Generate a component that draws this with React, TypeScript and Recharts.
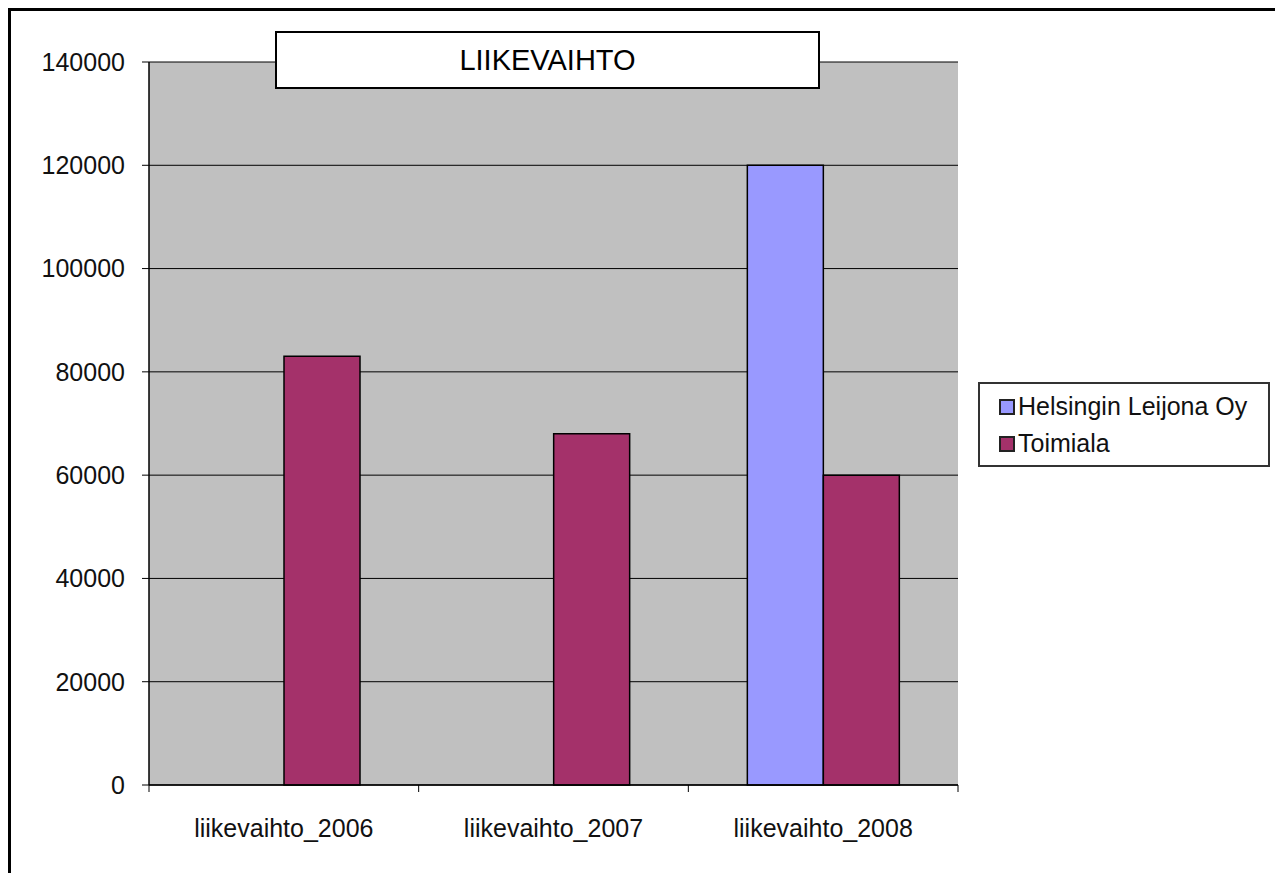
import React from "react"
import { Bar, BarChart, CartesianGrid, Legend, XAxis, YAxis } from "recharts"

const categories = ["liikevaihto_2006", "liikevaihto_2007", "liikevaihto_2008"]
const helsinkiValues = [null, null, 120000]
const toimialaValues = [83000, 68000, 60000]
const yTicks = [0, 20000, 40000, 60000, 80000, 100000, 120000, 140000]
const seriesNames = ["Helsingin Leijona Oy", "Toimiala"]
const chartTitle = "LIIKEVAIHTO"

const data = categories.map((name, i) => ({
  name,
  helsinki: helsinkiValues[i],
  toimiala: toimialaValues[i],
}))

const W = 1275
const H = 865
const margin = { top: 54, right: 325, bottom: 28, left: 41 }
const yAxisWidth = 100
const plotWidth = W - margin.left - margin.right - yAxisWidth
const font = "Arial, 'Liberation Sans', sans-serif"
const colors = { helsinki: "#9999FF", toimiala: "#A4316A" }

function CategoryTick(props: any) {
  const { x, y, payload, index } = props
  const band = plotWidth / categories.length
  const axisY = y - 8
  return (
    <g>
      <line x1={x - band / 2} x2={x - band / 2} y1={axisY} y2={axisY + 7} stroke="#000" />
      {index === categories.length - 1 && (
        <line x1={x + band / 2} x2={x + band / 2} y1={axisY} y2={axisY + 7} stroke="#000" />
      )}
      <text x={x} y={y + 44} textAnchor="middle" fontSize={25} fontFamily={font} fill="#111">
        {payload.value}
      </text>
    </g>
  )
}

function LegendBox() {
  const items = [
    { name: seriesNames[0], color: colors.helsinki },
    { name: seriesNames[1], color: colors.toimiala },
  ]
  return (
    <div
      style={{
        width: 292,
        height: 85,
        boxSizing: "border-box",
        border: "2px solid #333",
        background: "#fff",
        padding: "4px 0 0 19px",
        fontFamily: font,
        fontSize: 25,
        color: "#111",
      }}
    >
      {items.map((it) => (
        <div key={it.name} style={{ display: "flex", alignItems: "center", height: 37 }}>
          <span
            style={{
              display: "inline-block",
              width: 12,
              height: 12,
              background: it.color,
              border: "2px solid #222",
              marginRight: 3,
            }}
          />
          {it.name}
        </div>
      ))}
    </div>
  )
}

export default function App() {
  return (
    <div style={{ position: "relative", width: W, height: H, background: "#fff" }}>
      <BarChart width={W} height={H} data={data} margin={margin} barCategoryGap={59} barGap={0}>
        <CartesianGrid vertical={false} stroke="#000" fill="#C0C0C0" fillOpacity={1} />
        <XAxis
          dataKey="name"
          height={60}
          tickLine={false}
          tickSize={6}
          tickMargin={2}
          axisLine={{ stroke: "#000", strokeWidth: 1.5 }}
          tick={<CategoryTick />}
          interval={0}
        />
        <YAxis
          width={yAxisWidth}
          domain={[0, 140000]}
          ticks={yTicks}
          tickSize={7}
          tickMargin={17}
          axisLine={{ stroke: "#000", strokeWidth: 1.5 }}
          tickLine={{ stroke: "#000" }}
          tick={{ fontSize: 25, fontFamily: font, fill: "#111" }}
        />
        <YAxis
          yAxisId="right"
          orientation="right"
          width={0}
          domain={[0, 140000]}
          tick={false}
          tickLine={false}
          axisLine={{ stroke: "#808080", strokeWidth: 2 }}
        />
        <Legend
          content={() => <LegendBox />}
          layout="vertical"
          align="center"
          verticalAlign="middle"
          wrapperStyle={{ position: "absolute", left: 970, top: 374, width: 292, height: 85 }}
        />
        <Bar
          dataKey="helsinki"
          name={seriesNames[0]}
          fill={colors.helsinki}
          stroke="#000"
          strokeWidth={1.5}
          isAnimationActive={false}
        />
        <Bar
          dataKey="toimiala"
          name={seriesNames[1]}
          fill={colors.toimiala}
          stroke="#000"
          strokeWidth={1.5}
          isAnimationActive={false}
        />
      </BarChart>
      <div
        style={{
          position: "absolute",
          left: 267,
          top: 23,
          width: 545,
          height: 58,
          boxSizing: "border-box",
          border: "2px solid #000",
          background: "#fff",
          display: "flex",
          alignItems: "center",
          justifyContent: "center",
          fontFamily: font,
          fontSize: 29,
          color: "#000",
        }}
      >
        {chartTitle}
      </div>
      <div
        style={{
          position: "absolute",
          left: 0,
          top: 0,
          width: W,
          height: H,
          boxSizing: "border-box",
          borderTop: "3px solid #000",
          borderLeft: "3px solid #000",
          pointerEvents: "none",
        }}
      />
    </div>
  )
}
